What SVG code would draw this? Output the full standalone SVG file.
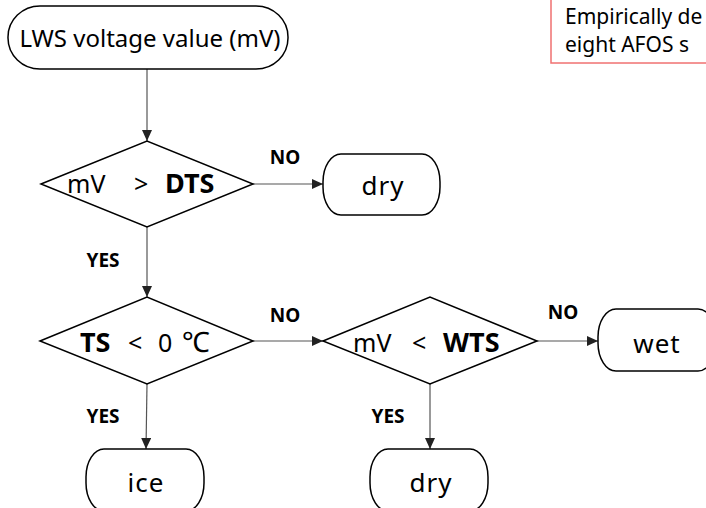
<svg xmlns="http://www.w3.org/2000/svg" width="706" height="508" viewBox="0 0 706 508">
<defs>
<style>
.shape{fill:#fff;stroke:#000;stroke-width:1.5}
.conn{fill:none;stroke:#555;stroke-width:1.2}
.t{font-family:"Noto Sans","Open Sans",sans-serif;font-size:25px;fill:#000}
.start{font-size:24px}
.term{font-size:26px;letter-spacing:1px}
.b{font-weight:bold;font-size:27px}
.lbl{font-family:"Noto Sans","Open Sans",sans-serif;font-size:19px;font-weight:bold;fill:#000}
.note{font-family:"Noto Sans","Open Sans",sans-serif;font-size:21px;fill:#000}
</style>
<marker id="arr" markerUnits="userSpaceOnUse" markerWidth="11" markerHeight="10" refX="11" refY="5" orient="auto">
<path d="M0,0 L11,5 L0,10 z" fill="#222"/>
</marker>
</defs>
<rect width="706" height="508" fill="#fff"/>

<g id="note">
<rect x="551" y="-5" width="170" height="68" fill="#fff" stroke="#f07070" stroke-width="1.5"/>
<text class="note" x="565" y="24">Empirically de</text>
<text class="note" x="565" y="52">eight AFOS s</text>
</g>

<g id="connectors">
<path class="conn" d="M147,69 L147,141" marker-end="url(#arr)"/>
<path class="conn" d="M253,184 L323,184" marker-end="url(#arr)"/>
<path class="conn" d="M147,227 L147,297" marker-end="url(#arr)"/>
<path class="conn" d="M253,341 L323,341" marker-end="url(#arr)"/>
<path class="conn" d="M537,341 L598,341" marker-end="url(#arr)"/>
<path class="conn" d="M147,384 L146,449" marker-end="url(#arr)"/>
<path class="conn" d="M430,384 L430,449" marker-end="url(#arr)"/>
<text class="lbl" x="285" y="164" text-anchor="middle">NO</text>
<text class="lbl" x="103" y="267" text-anchor="middle">YES</text>
<text class="lbl" x="285" y="322" text-anchor="middle">NO</text>
<text class="lbl" x="563" y="319" text-anchor="middle">NO</text>
<text class="lbl" x="103" y="423" text-anchor="middle">YES</text>
<text class="lbl" x="388" y="423" text-anchor="middle">YES</text>
</g>

<g id="start">
<rect class="shape" x="8" y="6" width="280" height="63" rx="32" ry="31"/>
<text class="t start" x="150" y="47" text-anchor="middle">LWS voltage value (mV)</text>
</g>

<g id="dec1">
<polygon class="shape" points="41,184 147,141 253,184 147,227"/>
<text class="t" y="193"><tspan x="67">mV</tspan><tspan x="134">&gt;</tspan><tspan x="165" class="b">DTS</tspan></text>
</g>

<g id="dry1">
<rect class="shape" x="323" y="154" width="117" height="61" rx="18" ry="28"/>
<text class="t term" x="383" y="195" text-anchor="middle">dry</text>
</g>

<g id="dec2">
<polygon class="shape" points="40,341 147,297 253,341 147,384"/>
<text class="t" y="352"><tspan x="80" class="b">TS</tspan><tspan x="128">&lt;</tspan><tspan x="158">0</tspan><tspan x="182" font-size="28">℃</tspan></text>
</g>

<g id="dec3">
<polygon class="shape" points="323,341 430,297 537,341 430,384"/>
<text class="t" y="352"><tspan x="353">mV</tspan><tspan x="412">&lt;</tspan><tspan x="443" class="b">WTS</tspan></text>
</g>

<g id="wet">
<rect class="shape" x="598" y="309" width="118" height="62" rx="18" ry="28"/>
<text class="t term" x="657" y="353" text-anchor="middle">wet</text>
</g>

<g id="ice">
<rect class="shape" x="86" y="449" width="118" height="62" rx="18" ry="28"/>
<text class="t term" x="146" y="492" text-anchor="middle">ice</text>
</g>

<g id="dry2">
<rect class="shape" x="370" y="449" width="118" height="62" rx="18" ry="28"/>
<text class="t term" x="431" y="492" text-anchor="middle">dry</text>
</g>
</svg>
